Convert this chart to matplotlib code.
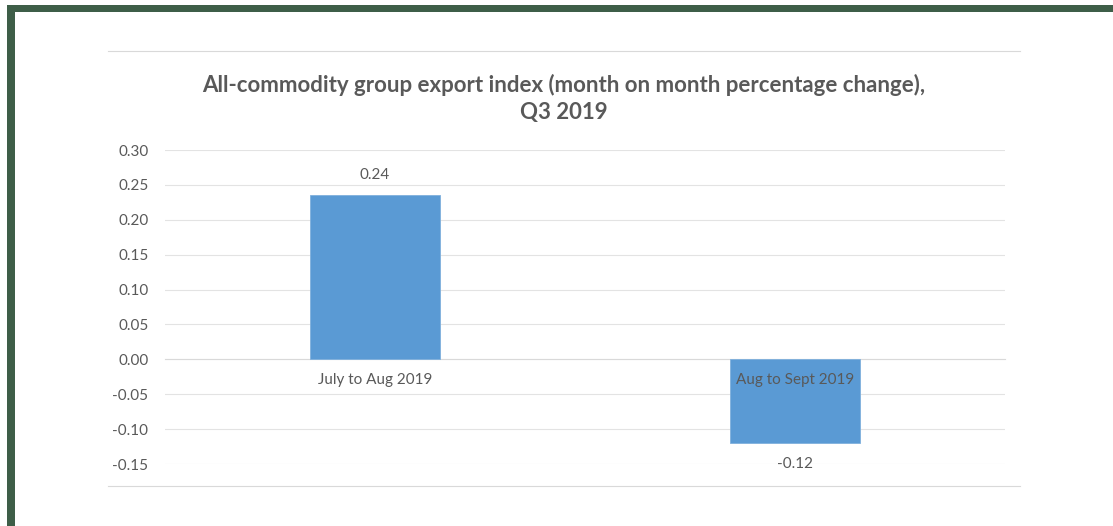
import matplotlib
matplotlib.use("Agg")
import matplotlib.pyplot as plt
from matplotlib.patches import Rectangle
from matplotlib.lines import Line2D

categories = ["July to Aug 2019", "Aug to Sept 2019"]
values = [0.236, -0.12]
value_labels = ["0.24", "-0.12"]
yticks = [-0.15, -0.10, -0.05, 0.00, 0.05, 0.10, 0.15, 0.20, 0.25, 0.30]
title = "All-commodity group export index (month on month percentage change),\nQ3 2019"

W, H = 1113, 526
fig = plt.figure(figsize=(W / 100, H / 100), dpi=100)
fig.patch.set_facecolor("white")

FONT = ["Lato", "DejaVu Sans"]
TXT = "#595959"
GRID = "#E3E3E3"
BAR = "#5A9AD4"
GREEN = "#3E5E48"

# green frame (top and left)
fig.add_artist(Rectangle((7 / W, 0), 8 / W, 1 - 5 / H, transform=fig.transFigure,
                         facecolor=GREEN, edgecolor="none"))
fig.add_artist(Rectangle((7 / W, 1 - 12 / H), 1 - 7 / W, 7 / H, transform=fig.transFigure,
                         facecolor=GREEN, edgecolor="none"))

# chart box lines
for yy in (51, 486):
    fig.add_artist(Line2D([108 / W, 1020 / W], [1 - yy / H, 1 - yy / H],
                          transform=fig.transFigure, color="#D9D9D9", lw=0.8))

ax = fig.add_axes([165 / W, 1 - 464 / H, 840 / W, 314 / H])
x = list(range(len(categories)))
bars = ax.bar(x, values, width=0.31, color=BAR, edgecolor="#7FB0DD", linewidth=0.6, zorder=3)
ax.set_xlim(-0.5, len(categories) - 0.5)
ax.set_ylim(yticks[0], yticks[-1])
ax.set_yticks(yticks)
ax.set_yticklabels([f"{t:.2f}" for t in yticks], fontsize=11, color=TXT, family=FONT)
ax.yaxis.grid(True, color=GRID, lw=0.8, zorder=0)
ax.set_axisbelow(True)

for s in ("top", "right", "left"):
    ax.spines[s].set_visible(False)
ax.spines["bottom"].set_position(("data", 0))
ax.spines["bottom"].set_color("#D9D9D9")
ax.spines["bottom"].set_linewidth(0.8)
ax.spines["bottom"].set_zorder(1)
ax.set_xticks(x)
ax.set_xticklabels(categories, fontsize=11, color=TXT, family=FONT)
ax.tick_params(axis="x", length=0, pad=10)
ax.tick_params(axis="y", length=0, pad=12)
ax.xaxis.set_zorder(5)

for b, v, lab in zip(bars, values, value_labels):
    off = 9 if v >= 0 else -10
    ax.annotate(lab, (b.get_x() + b.get_width() / 2, v), xytext=(0, off),
                textcoords="offset points", ha="center",
                va="bottom" if v >= 0 else "top", fontsize=11, color=TXT, family=FONT)

fig.text(564 / W, 1 - 98 / H, title, ha="center", va="center", fontsize=16,
         color=TXT, family=FONT, fontweight="bold", linespacing=1.35)

fig.savefig("out.png", dpi=100, facecolor="white")
